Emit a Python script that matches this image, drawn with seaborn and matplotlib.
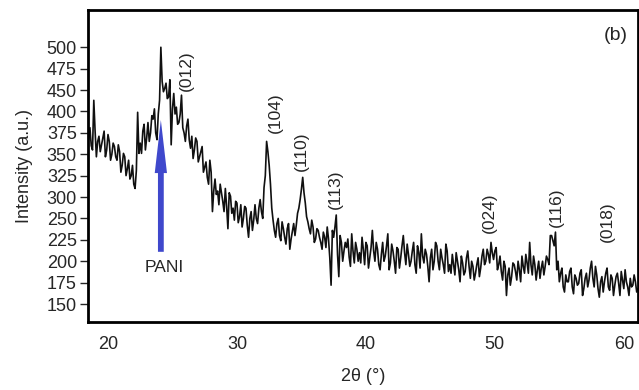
import numpy as np
import pandas as pd
import seaborn as sns
import matplotlib.pyplot as plt
from matplotlib.patches import FancyArrow

# intensity on a 0.2 deg grid starting at 18.5 deg
intensity_a = [
    342, 335, 388, 322, 346,  336, 352, 330, 340, 325,
    334, 318, 328, 312, 322,  308, 296, 312, 285, 374,
    338, 352, 330, 362, 350,  366, 350, 372, 450, 398,
    408, 392, 336, 396, 380,  362, 394, 350, 358, 342,
    346, 330, 340, 322, 334,  310, 298, 318, 258, 296,
    282, 290, 270, 285, 238,  276, 262, 270, 245, 266,
    250, 262, 228, 258, 248,  250, 262, 258, 286, 340,
    312, 262, 236, 244, 230,  246, 228, 238, 214, 235,
    230, 256, 272, 298, 268,  246, 232, 240, 226, 236,
    222, 234, 216, 226, 172,  228, 254, 182, 222, 212,
    216, 205, 232, 198, 214,  210, 228, 196, 218, 204,
    236, 200, 214, 190, 222,  206, 232, 198, 212, 186,
    214, 204, 230, 196, 208,  200, 222, 186, 210, 232,
    198, 208, 176, 214, 200,  218, 190, 204, 186, 212,
    196, 208, 184, 200, 176,  198, 188, 212, 180, 194,
    186, 204, 192, 214, 200,  208, 222, 202, 216, 196,
    188, 200, 160, 192, 182,  196, 178, 190, 206, 186,
    198, 222, 184, 196, 190,  180, 200, 194, 202, 230,
    224, 234, 200, 186, 170,  184, 176, 192, 162, 180,
    174, 190, 168, 186, 178,  200, 170, 184, 158, 182,
    176, 192, 166, 180, 172,  186, 160, 178, 190, 170,
    180, 172, 176, 168,
]
# readings in between (0.2 deg grid starting at 18.6 deg)
intensity_b = [
    356, 330, 352, 340, 328,  344, 322, 348, 318, 338,
    322, 336, 304, 326, 300,  318, 300, 290, 306, 326,
    326, 360, 344, 340, 370,  378, 342, 388, 410, 402,
    390, 412, 378, 372, 360,  372, 356, 340, 366, 332,
    320, 344, 316, 328, 304,  316, 290, 304, 282, 278,
    266, 280, 258, 264, 280,  256, 248, 268, 252, 240,
    264, 242, 250, 236, 266,  244, 272, 250, 300, 328,
    290, 248, 228, 250, 224,  238, 220, 244, 226, 244,
    242, 262, 284, 280, 252,  238, 248, 222, 238, 228,
    214, 228, 240, 204, 236,  240, 208, 230, 200, 222,
    226, 194, 212, 222, 200,  198, 214, 222, 192, 216,
    212, 222, 196, 208, 200,  218, 190, 220, 200, 216,
    192, 218, 210, 220, 194,  212, 196, 218, 192, 206,
    214, 194, 204, 190, 222,  200, 214, 196, 220, 188,
    186, 196, 210, 190, 206,  184, 204, 194, 200, 178,
    196, 182, 206, 196, 214,  198, 210, 212, 190, 206,
    178, 194, 184, 172, 198,  188, 200, 176, 194, 208,
    186, 196, 206, 178, 200,  192, 184, 206, 196, 230,
    218, 190, 176, 192, 164,  176, 188, 170, 184, 172,
    186, 160, 180, 170, 192,  180, 194, 168, 176, 164,
    186, 170, 184, 160, 182,  174, 188, 168, 176, 160,
    170, 184, 164,
]
theta_a = np.round(18.5 + 0.2 * np.arange(len(intensity_a)), 1)
theta_b = np.round(18.6 + 0.2 * np.arange(len(intensity_b)), 1)

# peak labels (hkl) with their positions
peak_labels = ["(012)", "(104)", "(110)", "(113)", "(024)", "(116)", "(018)"]
peak_x = [26.1, 33.0, 35.0, 37.6, 49.55, 54.75, 58.7]
peak_y = [423, 373, 329, 284, 257, 263, 246]

# y axis ticks as printed in the original
ytick_labels = ["150", "175", "200", "225", "250", "300", "325",
                "350", "375", "400", "450", "475", "500"]

df = pd.concat([
    pd.DataFrame({"two_theta": theta_a, "intensity": intensity_a}),
    pd.DataFrame({"two_theta": theta_b, "intensity": intensity_b}),
]).sort_values("two_theta")

sns.set_style("white")
plt.rcParams["font.family"] = ["Liberation Sans", "DejaVu Sans"]

fig = plt.figure(figsize=(6.39, 3.90), dpi=100)
ax = fig.add_axes([88 / 639, 1 - 322 / 390, 550 / 639, 312 / 390])

sns.lineplot(data=df, x="two_theta", y="intensity", ax=ax,
             color="#101010", linewidth=1.2, estimator=None, sort=False)

ax.set_xlim(18.45, 61.1)
ax.set_ylim(129, 493.5)

ax.set_xticks([20, 30, 40, 50, 60])
ax.set_yticks(np.arange(150, 451, 25))
ax.set_yticklabels(ytick_labels)
ax.tick_params(axis="x", length=0, pad=10, labelsize=13)
ax.tick_params(axis="y", length=6, width=1, direction="out", left=True,
               pad=2, labelsize=13)

ax.set_xlabel("2θ (°)", fontsize=13, labelpad=11)
ax.set_ylabel("Intensity (a.u.)", fontsize=13, labelpad=10)

for s in ax.spines.values():
    s.set_linewidth(2)
    s.set_color("black")

for lab, x, y in zip(peak_labels, peak_x, peak_y):
    ax.text(x, y, lab, rotation=90, ha="center", va="center", fontsize=12.5)

ax.text(59.4, 464, "(b)", ha="center", va="center", fontsize=14)

# PANI arrow
ax.add_patch(FancyArrow(24.1, 211, 0, 154, width=0.45, head_width=0.95,
                        head_length=62, length_includes_head=True,
                        color="#3f48cc", lw=0))
ax.text(24.4, 193, "PANI", ha="center", va="center", fontsize=12.5)

fig.savefig("out.png", dpi=100)
